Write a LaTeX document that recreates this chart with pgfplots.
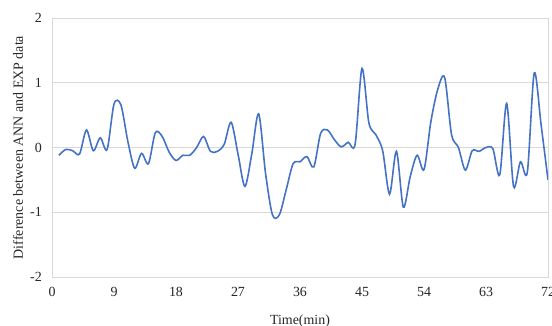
\documentclass[border=0pt]{standalone}
\usepackage{fontspec}
\setmainfont{Liberation Serif}
\usepackage{pgfplots}
\pgfplotsset{compat=1.18}
\definecolor{lineblue}{HTML}{4472C4}
\definecolor{gridgray}{HTML}{D9D9D9}
\begin{document}
\fontsize{14}{16}\selectfont
\begin{tikzpicture}
\begin{axis}[
  scale only axis,
  width=496bp, height=259bp,
  xmin=0, xmax=72, ymin=-2, ymax=2,
  xtick={0,9,18,27,36,45,54,63,72},
  ytick={-2,-1,0,1,2},
  major tick length=0pt,
  axis line style={gridgray},
  ymajorgrids, grid style={gridgray, line width=0.6pt},
  /pgf/number format/assume math mode=true,
  ticklabel style={font=\fontsize{14}{16}\selectfont, text=black!85},
  yticklabel style={inner sep=0pt, anchor=east, xshift=-10bp},
  xticklabel style={inner sep=0pt, anchor=north, yshift=-10bp},
  xlabel={Time(min)},
  ylabel={Difference between ANN and EXP data},
  label style={font=\fontsize{14}{16}\selectfont, text=black!85},
  xlabel style={at={(axis description cs:0.5,0)}, anchor=north, inner sep=0pt, yshift=-38bp},
  ylabel style={at={(axis description cs:0,0.5)}, anchor=center, inner sep=0pt, yshift=34bp},
]
\addplot[lineblue, line width=1.6pt, smooth, tension=0.5] coordinates {
(1,-0.12) (2,-0.03) (3,-0.05) (4,-0.10) (5,0.27) (6,-0.05) (7,0.15) (8,-0.03)
(9,0.67) (10,0.66) (11,0.10) (12,-0.32) (13,-0.09) (14,-0.25) (15,0.23) (16,0.17)
(17,-0.07) (18,-0.20) (19,-0.12) (20,-0.12) (21,0.00) (22,0.17) (23,-0.06) (24,-0.06)
(25,0.05) (26,0.39) (27,-0.10) (28,-0.60) (29,-0.10) (30,0.52) (31,-0.40) (32,-1.04)
(33,-1.04) (34,-0.65) (35,-0.25) (36,-0.22) (37,-0.14) (38,-0.30) (39,0.22) (40,0.27)
(41,0.12) (42,0.01) (43,0.08) (44,0.05) (45,1.22) (46,0.38) (47,0.20) (48,-0.05)
(49,-0.72) (50,-0.06) (51,-0.92) (52,-0.45) (53,-0.12) (54,-0.34) (55,0.40) (56,0.90)
(57,1.08) (58,0.20) (59,0.00) (60,-0.35) (61,-0.05) (62,-0.06) (63,0.00) (64,-0.02)
(65,-0.42) (66,0.68) (67,-0.60) (68,-0.22) (69,-0.38) (70,1.15) (71,0.35) (72,-0.50)
};
\coordinate (bl) at (rel axis cs:0,0);
\coordinate (tr) at (rel axis cs:1,1);
\end{axis}
\pgfresetboundingbox
\path[use as bounding box] ([shift={(-52bp,-49bp)}]bl) rectangle ([shift={(4bp,18bp)}]tr);
\end{tikzpicture}
\end{document}
